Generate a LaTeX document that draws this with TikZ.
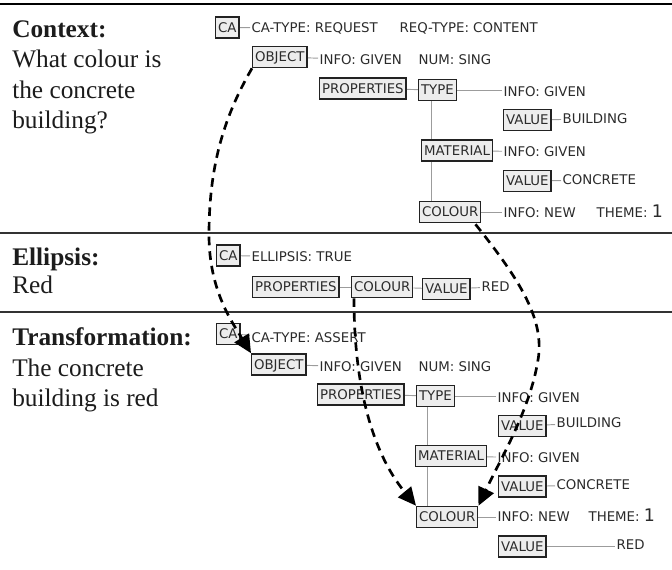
\documentclass[tikz,border=0pt]{standalone}
\usepackage{fontspec}
\setmainfont{Liberation Serif}
\newfontfamily\dvsans{DejaVu Sans}
\usetikzlibrary{arrows.meta,calc}
\pgfdeclarelayer{background}
\pgfsetlayers{background,main}

\definecolor{ink}{HTML}{1C1C1C}
\definecolor{textgray}{HTML}{2B2B2B}
\definecolor{boxfill}{HTML}{EDEDED}
\definecolor{boxline}{HTML}{222222}
\definecolor{conngray}{HTML}{9C9C9C}
\definecolor{rulecol}{HTML}{333333}

\tikzset{
  sans/.style={font=\dvsans\fontsize{10}{12}\selectfont, text=textgray},
  fbox/.style={sans, draw=boxline, fill=boxfill, line width=1.05pt,
    inner xsep=1.8pt, inner ysep=4.3pt, text height=7.3pt, text depth=0pt, anchor=west},
  attr/.style={sans, inner xsep=1pt, inner ysep=0pt, text height=7.3pt, text depth=0pt, anchor=west},
  conn/.style={draw=conngray, line width=0.7pt},
  heading/.style={font=\bfseries\fontsize{19}{23}\selectfont, text=ink, anchor=base west, inner sep=0pt},
  caption/.style={font=\fontsize{19}{23}\selectfont, text=ink, anchor=base west, inner sep=0pt},
  divider/.style={draw=rulecol, line width=1.5pt},
  link/.style={draw=black, line width=2pt, dash pattern=on 6.5pt off 4.5pt,
    -{Triangle[length=13.5pt,width=12.5pt]}},
}
\newcommand{\bignum}[1]{{\fontsize{13}{13}\selectfont #1}}

\begin{document}
\begin{tikzpicture}[x=0.75pt,y=-0.75pt]
\useasboundingbox (0,0) rectangle (672,569);

% section rules
\draw[draw=black, line width=1.9pt] (0,4) -- (672,4);
\draw[divider] (0,233) -- (672,233);
\draw[divider] (0,312) -- (672,312);

% left-hand captions
\node[heading] (hctx) at (12,37) {Context:};
\node[caption] (cctx1) at (12,67) {What colour is};
\node[caption] (cctx2) at (12,98) {the concrete};
\node[caption] (cctx3) at (12,128) {building?};

\node[heading] (hell) at (12,265) {Ellipsis:};
\node[caption] (cell1) at (12,293) {Red};

\node[heading] (htr) at (12,345) {Transformation:};
\node[caption] (ctr1) at (12,376) {The concrete};
\node[caption] (ctr2) at (12,406) {building is red};

% ---- context structure
\node[fbox] (c1ca) at (215,27.5) {CA};
\node[attr] (c1catype) at (250,28) {CA-TYPE: REQUEST};
\node[attr] (c1req) at (398,28) {REQ-TYPE: CONTENT};
\node[fbox] (c1obj) at (252,57) {OBJECT};
\node[attr] (c1objinfo) at (318,59.5) {INFO: GIVEN};
\node[attr] (c1num) at (417,59.5) {NUM: SING};
\node[fbox] (c1prop) at (319,88.5) {PROPERTIES};
\node[fbox] (c1type) at (418,90) {TYPE};
\node[attr] (c1typeinfo) at (502,92) {INFO: GIVEN};
\node[fbox] (c1tval) at (503,120) {VALUE};
\node[attr] (c1tvaltxt) at (561,119) {BUILDING};
\node[fbox] (c1mat) at (421,150.5) {MATERIAL};
\node[attr] (c1matinfo) at (502,152) {INFO: GIVEN};
\node[fbox] (c1mval) at (503,181) {VALUE};
\node[attr] (c1mvaltxt) at (561,180) {CONCRETE};
\node[fbox] (c1col) at (419,212) {COLOUR};
\node[attr] (c1colinfo) at (502,213) {INFO: NEW};
\node[attr] (c1theme) at (595,213) {THEME: \bignum{1}};
\coordinate (c1v) at ($(c1type.south west)+(13,0)$);

% ---- ellipsis structure
\node[fbox] (e2ca) at (216,255.5) {CA};
\node[attr] (e2ell) at (250,257) {ELLIPSIS: TRUE};
\node[fbox] (e2prop) at (252,287) {PROPERTIES};
\node[fbox] (e2col) at (351,287) {COLOUR};
\node[fbox] (e2val) at (422,289) {VALUE};
\node[attr] (e2red) at (480,287) {RED};

% ---- transformed structure
\node[fbox] (t3ca) at (216,334) {CA};
\node[attr] (t3catype) at (250,338) {CA-TYPE: ASSERT};
\node[fbox] (t3obj) at (251,364.5) {OBJECT};
\node[attr] (t3objinfo) at (318,367) {INFO: GIVEN};
\node[attr] (t3num) at (417,367) {NUM: SING};
\node[fbox] (t3prop) at (317,394.5) {PROPERTIES};
\node[fbox] (t3type) at (416,396) {TYPE};
\node[attr] (t3typeinfo) at (496,398) {INFO: GIVEN};
\node[fbox] (t3tval) at (498,426) {VALUE};
\node[attr] (t3tvaltxt) at (555,423) {BUILDING};
\node[fbox] (t3mat) at (415,456) {MATERIAL};
\node[attr] (t3matinfo) at (496,458) {INFO: GIVEN};
\node[fbox] (t3mval) at (498,486.5) {VALUE};
\node[attr] (t3mvaltxt) at (555,485) {CONCRETE};
\node[fbox] (t3col) at (416,517) {COLOUR};
\node[attr] (t3colinfo) at (496,517) {INFO: NEW};
\node[attr] (t3theme) at (587,517) {THEME: \bignum{1}};
\node[fbox] (t3cval) at (498,546.5) {VALUE};
\node[attr] (t3red) at (615,545) {RED};
\coordinate (t3v) at ($(t3type.south west)+(11,0)$);

% grey attribute links, behind the boxes
\begin{pgfonlayer}{background}
  \draw[conn] (c1ca) -- (c1catype);
  \draw[conn] (c1obj) -- (c1objinfo);
  \draw[conn] (c1prop) -- (c1type);
  \draw[conn] (c1type.east) -- (c1typeinfo.west |- c1type.east);
  \draw[conn] (c1tval) -- (c1tvaltxt);
  \draw[conn] (c1mat) -- (c1matinfo);
  \draw[conn] (c1mval) -- (c1mvaltxt);
  \draw[conn] (c1col.east) -- (c1colinfo.west |- c1col.east);
  \draw[conn] (c1v) -- (c1v |- c1col.north);

  \draw[conn] (e2ca) -- (e2ell);
  \draw[conn] (e2prop) -- (e2col);
  \draw[conn] (e2col) -- (e2val);
  \draw[conn] (e2val) -- (e2red);

  \draw[conn] (t3ca) -- (t3catype);
  \draw[conn] (t3obj) -- (t3objinfo);
  \draw[conn] (t3prop) -- (t3type);
  \draw[conn] (t3type.east) -- (t3typeinfo.west |- t3type.east);
  \draw[conn] (t3tval) -- (t3tvaltxt);
  \draw[conn] (t3mat) -- (t3matinfo);
  \draw[conn] (t3mval) -- (t3mvaltxt);
  \draw[conn] (t3col.east) -- (t3colinfo.west |- t3col.east);
  \draw[conn] (t3cval.east) -- (t3red.west |- t3cval.east);
  \draw[conn] (t3v) -- (t3v |- t3col.north);
\end{pgfonlayer}

% dashed copy links
\draw[link] (c1obj.south west) .. controls (222,120) and (209,170) .. (209,235)
  .. controls (209,290) and (232,322) .. (t3obj.north west);
\draw[link] ($(c1col.south east)+(-6,1)$) .. controls (520,280) and (545,320) .. (538,360)
  .. controls (530,410) and (500,460) .. (t3col.north east);
\draw[link] ($(e2col.south west)+(3,0)$) .. controls (354,380) and (370,450) .. (t3col.north west);
\end{tikzpicture}
\end{document}
